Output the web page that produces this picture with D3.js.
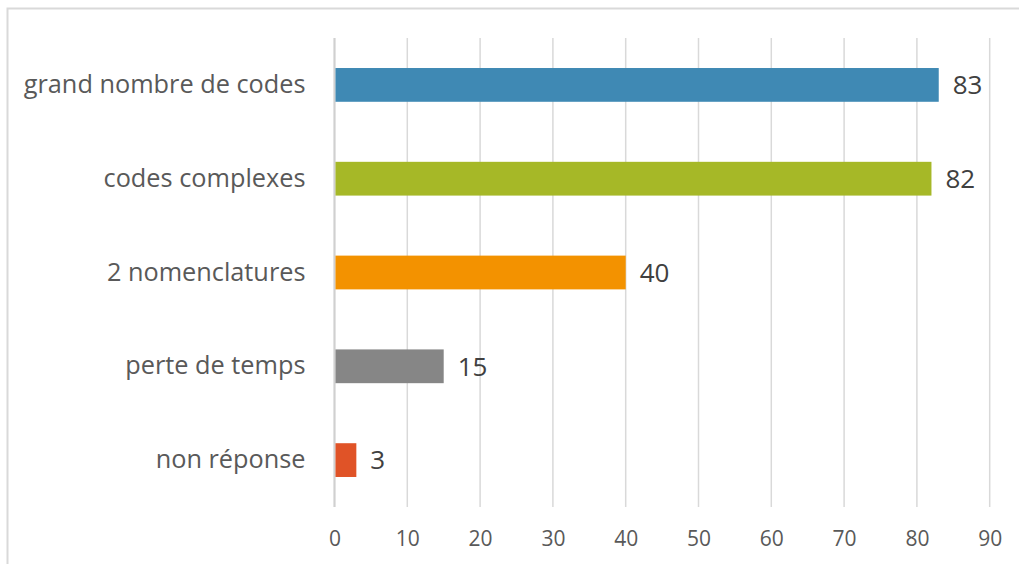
<!DOCTYPE html>
<html>
<head>
<meta charset="utf-8">
<script src="https://cdn.jsdelivr.net/npm/d3@7"></script>
<style>
  html, body { margin: 0; padding: 0; background: #fff; }
  svg { display: block; font-family: "Open Sans", "Noto Sans", sans-serif; }
</style>
</head>
<body>
<svg id="chart" width="1019" height="564"></svg>
<script>
// Reasons given, with number of answers
const categories = ["grand nombre de codes", "codes complexes", "2 nomenclatures", "perte de temps", "non réponse"];
const values = [83, 82, 40, 15, 3];
const colors = ["#3F89B4", "#A6B827", "#F39200", "#868686", "#E05327"];
const tickValues = [0, 10, 20, 30, 40, 50, 60, 70, 80, 90];

const svg = d3.select("#chart");
const W = 1019, H = 564;
const FONT = "'Open Sans', 'Noto Sans', sans-serif";

// Chart frame
svg.append("rect")
  .attr("x", 7.5).attr("y", 8.5)
  .attr("width", W + 10).attr("height", H + 10)
  .attr("fill", "#fff")
  .attr("stroke", "#D9D9D9").attr("stroke-width", 2);

const plot = { left: 334.5, right: 989.7, top: 38, bottom: 507 };

const x = d3.scaleLinear().domain([0, 90]).range([plot.left, plot.right]);
const y = d3.scaleBand().domain(categories).range([plot.top, plot.bottom])
  .paddingInner(0.64).paddingOuter(0.32);

// Vertical gridlines
svg.append("g").selectAll("line")
  .data(tickValues.slice(1))
  .join("line")
  .attr("x1", d => x(d)).attr("x2", d => x(d))
  .attr("y1", plot.top).attr("y2", plot.bottom)
  .attr("stroke", "#D9D9D9").attr("stroke-width", 1.5);

// Category axis line at zero
svg.append("line")
  .attr("x1", x(0)).attr("x2", x(0))
  .attr("y1", plot.top).attr("y2", plot.bottom)
  .attr("stroke", "#D0D0D0").attr("stroke-width", 2.2);

// Value axis tick labels
const xAxis = d3.axisBottom(x).tickValues(tickValues).tickSize(0).tickPadding(0);
const gx = svg.append("g").attr("transform", `translate(0, ${plot.bottom})`).call(xAxis);
gx.select(".domain").remove();
gx.selectAll("text")
  .attr("dy", null).attr("y", 39)
  .attr("fill", "#595959")
  .attr("font-size", 21)
  .attr("font-family", FONT);

// Category labels
const yAxis = d3.axisLeft(y).tickSize(0).tickPadding(29);
const gy = svg.append("g").attr("transform", `translate(${x(0)}, 0)`).call(yAxis);
gy.select(".domain").remove();
gy.selectAll("text")
  .attr("fill", "#595959")
  .attr("font-size", 25.3)
  .attr("font-family", FONT);

// Bars
svg.append("g").selectAll("rect")
  .data(categories)
  .join("rect")
  .attr("x", x(0) + 1)
  .attr("y", d => y(d))
  .attr("width", (d, i) => x(values[i]) - x(0) - 1)
  .attr("height", y.bandwidth())
  .attr("fill", (d, i) => colors[i]);

// Value labels
svg.append("g").selectAll("text")
  .data(categories)
  .join("text")
  .attr("x", (d, i) => x(values[i]) + 14)
  .attr("y", d => y(d) + y.bandwidth() / 2)
  .attr("dy", "0.36em")
  .attr("fill", "#404040")
  .attr("font-size", 26)
  .attr("font-family", FONT)
  .text((d, i) => values[i]);
</script>
</body>
</html>
